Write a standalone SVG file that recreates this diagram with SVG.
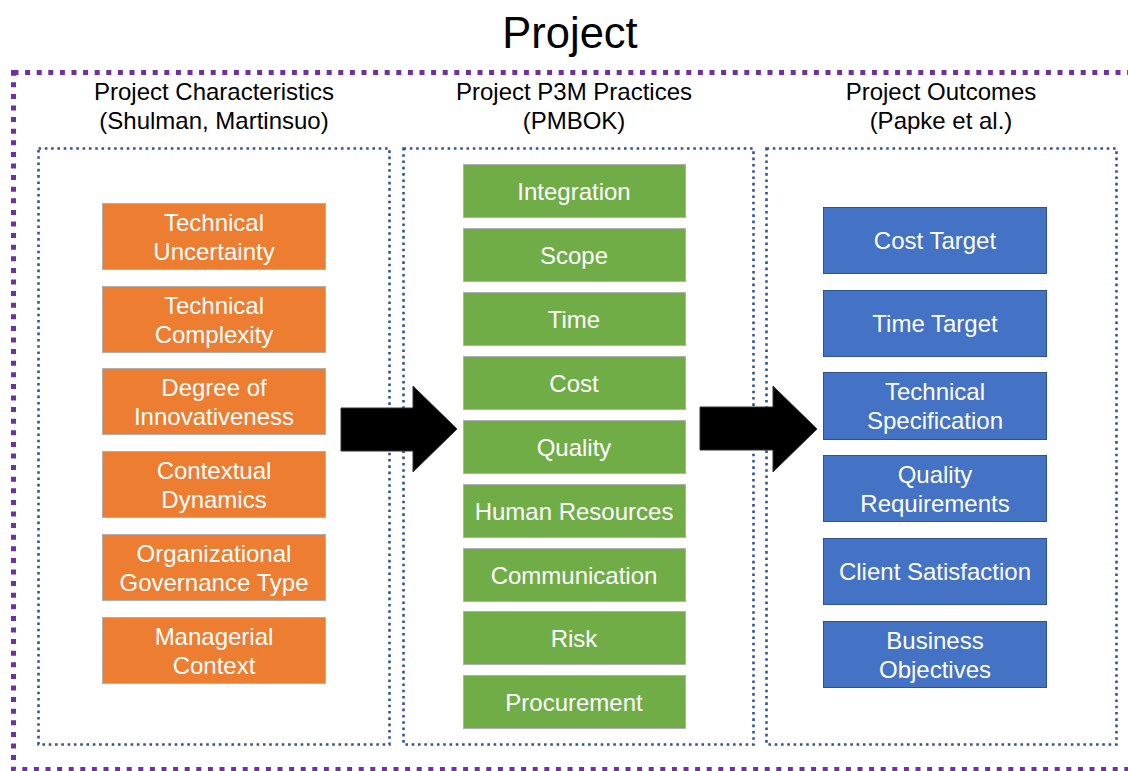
<svg xmlns="http://www.w3.org/2000/svg" width="1128" height="771" viewBox="0 0 1128 771">
  <style>
    text { font-family: "Liberation Sans", Arial, sans-serif; }
    .title { font-size: 43.5px; fill: #000; text-anchor: middle; }
    .head { font-size: 24px; fill: #000; text-anchor: middle; }
    .lbl { font-size: 24px; fill: #fff; text-anchor: middle; }
    .outer { fill: none; stroke: #7030A0; stroke-width: 5; stroke-dasharray: 5 6.6; }
    .panel { fill: none; stroke: #2F5597; stroke-width: 2.6; stroke-dasharray: 2.6 3.7; }
    .orange { fill: #ED7D31; stroke: #B0B0B0; stroke-width: 1; }
    .green { fill: #70AD47; stroke: #B0B0B0; stroke-width: 1; }
    .blue { fill: #4472C4; stroke: #2F528F; stroke-width: 1; }
    .arrow { fill: #000; stroke: #333; stroke-width: 1; }
  </style>

  <text class="title" x="570" y="48">Project</text>
  <rect class="outer" x="13.5" y="72.5" width="1120" height="697"/>

  <!-- column headers -->
  <text class="head" x="214" y="100">Project Characteristics</text>
  <text class="head" x="214" y="129">(Shulman, Martinsuo)</text>
  <text class="head" x="574" y="100">Project P3M Practices</text>
  <text class="head" x="574" y="129">(PMBOK)</text>
  <text class="head" x="941" y="100">Project Outcomes</text>
  <text class="head" x="941" y="129">(Papke et al.)</text>

  <!-- column panels -->
  <rect class="panel" x="38.5" y="148.5" width="351" height="596"/>
  <rect class="panel" x="403.5" y="148.5" width="350" height="596"/>
  <rect class="panel" x="766.5" y="148.5" width="350" height="596"/>

  <!-- characteristics -->
  <g id="char-uncertainty"><rect class="orange" x="102.5" y="203.5" width="223" height="66"/><text class="lbl" x="214" y="231">Technical</text><text class="lbl" x="214" y="260">Uncertainty</text></g>
  <g id="char-complexity"><rect class="orange" x="102.5" y="286.5" width="223" height="66"/><text class="lbl" x="214" y="314">Technical</text><text class="lbl" x="214" y="343">Complexity</text></g>
  <g id="char-innovativeness"><rect class="orange" x="102.5" y="368.5" width="223" height="66"/><text class="lbl" x="214" y="396">Degree of</text><text class="lbl" x="214" y="425">Innovativeness</text></g>
  <g id="char-dynamics"><rect class="orange" x="102.5" y="451.5" width="223" height="66"/><text class="lbl" x="214" y="479">Contextual</text><text class="lbl" x="214" y="508">Dynamics</text></g>
  <g id="char-governance"><rect class="orange" x="102.5" y="534.5" width="223" height="66"/><text class="lbl" x="214" y="562">Organizational</text><text class="lbl" x="214" y="591">Governance Type</text></g>
  <g id="char-managerial"><rect class="orange" x="102.5" y="617.5" width="223" height="66"/><text class="lbl" x="214" y="645">Managerial</text><text class="lbl" x="214" y="674">Context</text></g>

  <!-- practices -->
  <g id="p-integration"><rect class="green" x="463.5" y="164.5" width="222" height="53"/><text class="lbl" x="574" y="200">Integration</text></g>
  <g id="p-scope"><rect class="green" x="463.5" y="228.5" width="222" height="53"/><text class="lbl" x="574" y="264">Scope</text></g>
  <g id="p-time"><rect class="green" x="463.5" y="292.5" width="222" height="53"/><text class="lbl" x="574" y="328">Time</text></g>
  <g id="p-cost"><rect class="green" x="463.5" y="356.5" width="222" height="53"/><text class="lbl" x="574" y="392">Cost</text></g>
  <g id="p-quality"><rect class="green" x="463.5" y="420.5" width="222" height="53"/><text class="lbl" x="574" y="456">Quality</text></g>
  <g id="p-hr"><rect class="green" x="463.5" y="484.5" width="222" height="53"/><text class="lbl" x="574" y="520">Human Resources</text></g>
  <g id="p-communication"><rect class="green" x="463.5" y="548.5" width="222" height="53"/><text class="lbl" x="574" y="584">Communication</text></g>
  <g id="p-risk"><rect class="green" x="463.5" y="611.5" width="222" height="53"/><text class="lbl" x="574" y="647">Risk</text></g>
  <g id="p-procurement"><rect class="green" x="463.5" y="675.5" width="222" height="53"/><text class="lbl" x="574" y="711">Procurement</text></g>

  <!-- outcomes -->
  <g id="o-cost"><rect class="blue" x="823.5" y="207.5" width="223" height="66"/><text class="lbl" x="935" y="249">Cost Target</text></g>
  <g id="o-time"><rect class="blue" x="823.5" y="290.5" width="223" height="66"/><text class="lbl" x="935" y="332">Time Target</text></g>
  <g id="o-spec"><rect class="blue" x="823.5" y="372.5" width="223" height="67"/><text class="lbl" x="935" y="400">Technical</text><text class="lbl" x="935" y="429">Specification</text></g>
  <g id="o-quality"><rect class="blue" x="823.5" y="455.5" width="223" height="66"/><text class="lbl" x="935" y="483">Quality</text><text class="lbl" x="935" y="512">Requirements</text></g>
  <g id="o-client"><rect class="blue" x="823.5" y="538.5" width="223" height="66"/><text class="lbl" x="935" y="580">Client Satisfaction</text></g>
  <g id="o-business"><rect class="blue" x="823.5" y="621.5" width="223" height="66"/><text class="lbl" x="935" y="649">Business</text><text class="lbl" x="935" y="678">Objectives</text></g>

  <!-- block arrows between columns -->
  <g id="connectors">
    <polygon class="arrow" points="341,408 413,408 413,386 457,429 413,472 413,451 341,451"/>
    <polygon class="arrow" points="700,407 773,407 773,386 817,429 773,472 773,450 700,450"/>
  </g>
</svg>
